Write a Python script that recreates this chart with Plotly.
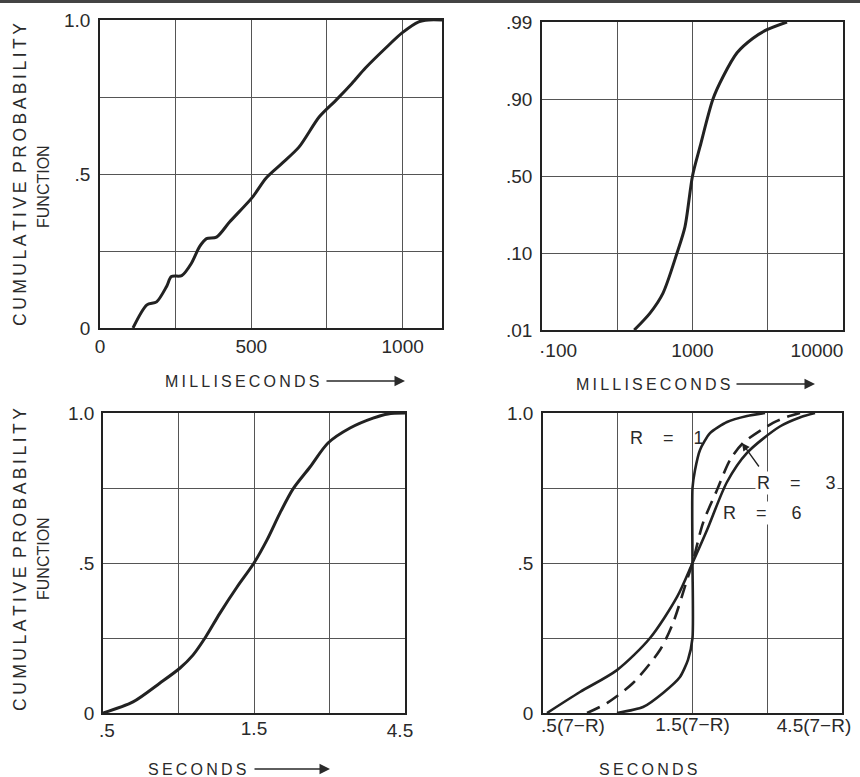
import numpy as np
import plotly.graph_objects as go

W, H = 860, 777

# ---------------- data ----------------
# Panel 1 (top-left): linear milliseconds
p1_ms = [109, 155, 187, 220, 236, 270, 302, 329, 352, 385, 428, 504, 549, 603, 658, 724, 780, 833, 877, 944, 998, 1053, 1086, 1130]
p1_cpf = [0, 0.075, 0.085, 0.135, 0.167, 0.17, 0.21, 0.264, 0.29, 0.295, 0.344, 0.425, 0.487, 0.536, 0.588, 0.685, 0.74, 0.795, 0.844, 0.909, 0.958, 0.994, 1.0, 1.0]
p1_xticks = [0, 250, 500, 750, 1000]
p1_xtext = ["0", "", "500", "", "1000"]

cpf_ticks = [0, 0.25, 0.5, 0.75, 1.0]
cpf_text = ["0", "", ".5", "", "1.0"]

# Panel 2 (top-right): log milliseconds, probability scale
p2_ms = [410, 522, 637, 789, 891, 1000, 1122, 1368, 1595, 1977, 2524, 3126, 4246]
p2_prob = [0.01, 0.0298, 0.0532, 0.10, 0.236, 0.50, 0.652, 0.90, 0.926, 0.954, 0.971, 0.981, 0.99]
p2_xticks = [100, 316.23, 1000, 3162.3, 10000]
p2_xtext = ["\u00b7100", "", "1000", "", "10000"]
p2_prob_ticks = [0.01, 0.10, 0.50, 0.90, 0.99]
p2_prob_text = [".01", ".10", ".50", ".90", ".99"]

# Panel 3 (bottom-left): log seconds
p3_s = [0.5, 0.622, 0.757, 0.876, 0.962, 1.05, 1.171, 1.326, 1.5, 1.649, 1.813, 1.993, 2.255, 2.57, 3.017, 3.566, 3.977, 4.5]
p3_cpf = [0, 0.037, 0.1, 0.15, 0.193, 0.25, 0.333, 0.42, 0.5, 0.577, 0.667, 0.747, 0.82, 0.9, 0.95, 0.983, 0.997, 1.0]
sec_ticks = [0.5, 0.866, 1.5, 2.598, 4.5]
p3_xtext = [".5", "", "1.5", "", "4.5"]

# Panel 4 (bottom-right): seconds / (7-R)
r1_x = [0.861, 1.043, 1.208, 1.368, 1.451, 1.5, 1.5, 1.5, 1.528, 1.585, 1.706, 1.933, 2.239, 2.556]
r1_y = [0, 0.02, 0.067, 0.12, 0.177, 0.25, 0.5, 0.75, 0.81, 0.877, 0.933, 0.97, 0.99, 1.0]
r3_x = [0.691, 0.80, 0.969, 1.181, 1.30, 1.44, 1.5, 1.62, 1.796, 1.976, 2.175, 2.71, 3.004, 3.305]
r3_y = [0, 0.033, 0.1, 0.21, 0.30, 0.443, 0.5, 0.633, 0.743, 0.843, 0.9, 0.967, 0.987, 1.0]
r6_x = [0.515, 0.656, 0.861, 1.098, 1.339, 1.5, 1.669, 1.933, 2.239, 2.85, 3.3, 3.69]
r6_y = [0, 0.07, 0.143, 0.25, 0.387, 0.5, 0.61, 0.77, 0.867, 0.955, 0.985, 1.0]
p4_xtext = [".5(7\u2212R)", "", "1.5(7\u2212R)", "", "4.5(7\u2212R)"]

# ---------------- styling ----------------
FONT = "Liberation Sans, Arial, sans-serif"
TXT = "#2a2a2a"
INK = "#222222"
GRID = "#555555"


def px(x):
    return x / W


def py(y):
    return 1 - y / H


def spaced(s, sep="\u2009", gap="\u2002"):
    words = s.split(" ")
    return gap.join(sep.join(w) for w in words)


fig = go.Figure()
line = dict(color=INK, width=3, shape="spline", smoothing=0.8)

fig.add_trace(go.Scatter(x=p1_ms, y=p1_cpf, mode="lines", line=line, xaxis="x", yaxis="y"))
p2_pos = np.interp(p2_prob, p2_prob_ticks, np.arange(len(p2_prob_ticks)))
fig.add_trace(go.Scatter(x=p2_ms, y=p2_pos, mode="lines", line=line, xaxis="x2", yaxis="y2"))
fig.add_trace(go.Scatter(x=p3_s, y=p3_cpf, mode="lines", line=line, xaxis="x3", yaxis="y3"))
fig.add_trace(go.Scatter(x=r6_x, y=r6_y, mode="lines", line=dict(color=INK, width=2.6, shape="spline", smoothing=0.8), xaxis="x4", yaxis="y4"))
fig.add_trace(go.Scatter(x=r3_x, y=r3_y, mode="lines", line=dict(color=INK, width=2.6, shape="spline", smoothing=0.8, dash="14px,8px"), xaxis="x4", yaxis="y4"))
fig.add_trace(go.Scatter(x=r1_x, y=r1_y, mode="lines", line=dict(color=INK, width=2.6, shape="spline", smoothing=0.6), xaxis="x4", yaxis="y4"))

# empty carrier traces so the overlay label axes get drawn
for xa, ya in [("x5", "y2"), ("x6", "y2"), ("x7", "y3"), ("x8", "y3"), ("x9", "y4"), ("x10", "y4")]:
    fig.add_trace(go.Scatter(x=[None], y=[None], mode="lines", xaxis=xa, yaxis=ya, hoverinfo="skip"))

TICKFONT = dict(family=FONT, size=19, color=TXT)


def masked(texts, keep):
    return [t if i in keep else "" for i, t in enumerate(texts)]


def xax(domain, anchor, tickvals, ticktext, rng, typ="linear", standoff=0):
    return dict(domain=domain, anchor=anchor, type=typ, range=rng, automargin=False,
                tickmode="array", tickvals=tickvals, ticktext=ticktext,
                showgrid=True, gridcolor=GRID, gridwidth=1,
                showline=True, linecolor=INK, linewidth=1.5, mirror=True,
                zeroline=False, ticks="", ticklabelstandoff=standoff,
                tickfont=TICKFONT, fixedrange=True)


def xlabel_ax(over, anchor, tickvals, ticktext, rng, typ, shift, standoff):
    # overlay axis that only carries shifted edge tick labels
    return dict(overlaying=over, anchor=anchor, type=typ, range=rng, automargin=False,
                tickmode="array", tickvals=tickvals, ticktext=ticktext,
                showgrid=False, showline=False, zeroline=False, ticks="", side="bottom",
                ticklabelshift=shift, ticklabelstandoff=standoff,
                tickfont=TICKFONT, fixedrange=True)


def yax(domain, anchor, tickvals, ticktext, rng, standoff=3):
    return dict(domain=domain, anchor=anchor, range=rng, automargin=False,
                tickmode="array", tickvals=tickvals, ticktext=ticktext,
                showgrid=True, gridcolor=GRID, gridwidth=1,
                showline=True, linecolor=INK, linewidth=1.5, mirror=True,
                zeroline=False, ticks="", ticklabelstandoff=standoff,
                tickfont=TICKFONT, fixedrange=True)


lo, hi = np.log10(0.5), np.log10(4.5)
layout = dict(
    template="none",
    width=W, height=H, margin=dict(l=0, r=0, t=0, b=0, autoexpand=False),
    paper_bgcolor="white", plot_bgcolor="white", showlegend=False,
    xaxis=xax([px(100), px(442)], "y", p1_xticks, p1_xtext, [0, 1130], standoff=0),
    yaxis=yax([py(328), py(20)], "x", cpf_ticks, cpf_text, [0, 1], standoff=4),
    xaxis2=xax([px(542), px(843)], "y2", p2_xticks, masked(p2_xtext, {2}), [2, 4], "log", standoff=2),
    yaxis2=yax([py(330), py(22)], "x2", list(range(len(p2_prob_ticks))), p2_prob_text, [0, 4], standoff=4),
    xaxis3=xax([px(103), px(405)], "y3", sec_ticks, masked(p3_xtext, {2}), [lo, hi], "log", standoff=-3),
    yaxis3=yax([py(713), py(413)], "x3", cpf_ticks, cpf_text, [0, 1], standoff=3),
    xaxis4=xax([px(543), px(842)], "y4", sec_ticks, masked(p4_xtext, {2}), [lo, hi], "log", standoff=-7),
    yaxis4=yax([py(713), py(413)], "x4", cpf_ticks, cpf_text, [0, 1], standoff=4),
    # edge labels, shifted inward like the printed figure
    xaxis5=xlabel_ax("x2", "y2", [p2_xticks[0]], [p2_xtext[0]], [2, 4], "log", 16, 7),
    xaxis6=xlabel_ax("x2", "y2", [p2_xticks[-1]], [p2_xtext[-1]], [2, 4], "log", -26, 7),
    xaxis7=xlabel_ax("x3", "y3", [sec_ticks[0]], [p3_xtext[0]], [lo, hi], "log", 4, 4),
    xaxis8=xlabel_ax("x3", "y3", [sec_ticks[-1]], [p3_xtext[-1]], [lo, hi], "log", -5, 4),
    xaxis9=xlabel_ax("x4", "y4", [sec_ticks[0]], [p4_xtext[0]], [lo, hi], "log", 30, -1),
    xaxis10=xlabel_ax("x4", "y4", [sec_ticks[-1]], [p4_xtext[-1]], [lo, hi], "log", -28, -1),
)
fig.update_layout(**layout)

ann = []


def text(x, y, s, size=16, angle=0, **kw):
    d = dict(x=px(x), y=py(y), xref="paper", yref="paper", text=s, showarrow=False,
             textangle=angle, font=dict(family=FONT, size=size, color=TXT),
             xanchor="center", yanchor="middle")
    d.update(kw)
    ann.append(d)


def arrow(x0, x1, y):
    ann.append(dict(x=px(x1), y=py(y), xref="paper", yref="paper", text="",
                    showarrow=True, ax=-(x1 - x0), ay=0, axref="pixel", ayref="pixel",
                    arrowhead=2, arrowsize=1.4, arrowwidth=1.5, arrowcolor=TXT))


# y-axis titles
for cy, fy in [(175, 187), (560, 559)]:
    text(20, cy, spaced("CUMULATIVE PROBABILITY"), size=17.5, angle=-90)
    text(43, fy, "FUNCTION", size=16, angle=-90)

# x-axis titles
text(242, 381, spaced("MILLISECONDS"), size=16)
arrow(325, 405, 381)
text(653, 384, spaced("MILLISECONDS"), size=16)
arrow(735, 815, 384)
text(197, 769, spaced("SECONDS"), size=16)
arrow(253, 330, 769)
text(648, 769, spaced("SECONDS"), size=16)

# R labels
nb = "\u00a0"
text(667, 438, "R" + nb * 4 + "=" + nb * 4 + "1", size=18)
text(796, 483, "R" + nb * 4 + "=" + nb * 5 + "3", size=18, bgcolor="white", borderpad=1)
text(762, 513, "R" + nb * 4 + "=" + nb * 5 + "6", size=18, bgcolor="white", borderpad=1)
ann.append(dict(x=px(742), y=py(443), xref="paper", yref="paper", text="",
                showarrow=True, ax=18, ay=25, axref="pixel", ayref="pixel",
                arrowhead=2, arrowsize=1.2, arrowwidth=1.3, arrowcolor=INK))

fig.update_layout(annotations=ann)
fig.add_shape(type="line", xref="paper", yref="paper", x0=0, x1=1, y0=py(1.5), y1=py(1.5),
              line=dict(color="#444444", width=3))

fig.write_html("out.html", config={"displayModeBar": False})
